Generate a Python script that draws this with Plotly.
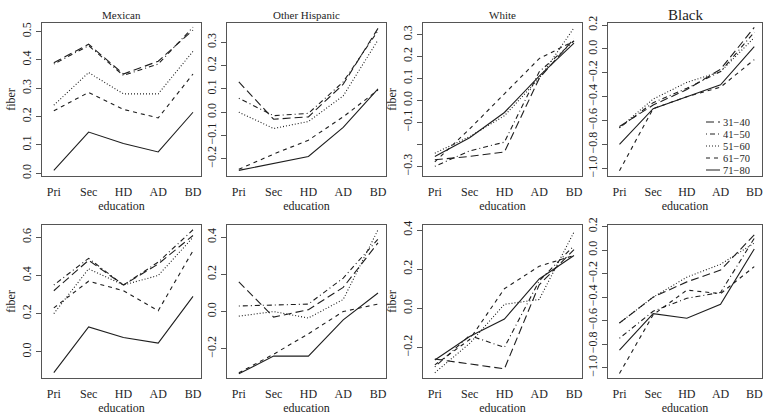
import plotly.graph_objects as go

# ---------------- data ----------------
education = ["Pri", "Sec", "HD", "AD", "BD"]
age_groups = ["31−40", "41−50", "51−60", "61−70", "71−80"]
panel_titles = ["Mexican", "Other Hispanic", "White", "Black"]

# each list: rows in age_groups order, values in education order
mexican_top = [
    [0.390, 0.455, 0.350, 0.395, 0.505],
    [0.385, 0.450, 0.345, 0.385, 0.515],
    [0.240, 0.355, 0.280, 0.280, 0.430],
    [0.220, 0.285, 0.225, 0.195, 0.350],
    [0.010, 0.145, 0.105, 0.075, 0.215],
]
other_hispanic_top = [
    [0.130, -0.030, -0.020, 0.120, 0.360],
    [0.060, -0.015, -0.005, 0.130, 0.350],
    [0.000, -0.070, -0.040, 0.070, 0.310],
    [-0.245, -0.180, -0.120, -0.020, 0.095],
    [-0.250, -0.220, -0.190, -0.065, 0.100],
]
white_top = [
    [-0.270, -0.255, -0.235, 0.100, 0.280],
    [-0.300, -0.230, -0.190, 0.130, 0.270],
    [-0.240, -0.165, -0.070, 0.100, 0.330],
    [-0.280, -0.130, 0.030, 0.190, 0.270],
    [-0.255, -0.170, -0.055, 0.110, 0.260],
]
black_top = [
    [-0.650, -0.470, -0.340, -0.170, 0.180],
    [-0.660, -0.450, -0.330, -0.190, 0.140],
    [-0.660, -0.420, -0.280, -0.190, 0.095],
    [-1.020, -0.500, -0.400, -0.320, -0.090],
    [-0.800, -0.500, -0.400, -0.300, 0.020],
]
mexican_bottom = [
    [0.320, 0.480, 0.350, 0.460, 0.610],
    [0.350, 0.490, 0.350, 0.470, 0.640],
    [0.200, 0.435, 0.350, 0.400, 0.600],
    [0.230, 0.370, 0.320, 0.215, 0.530],
    [-0.110, 0.130, 0.075, 0.045, 0.290],
]
other_hispanic_bottom = [
    [0.160, -0.030, 0.010, 0.130, 0.370],
    [0.030, 0.035, 0.040, 0.180, 0.390],
    [-0.025, 0.000, -0.035, 0.065, 0.440],
    [-0.330, -0.230, -0.120, 0.000, 0.040],
    [-0.335, -0.240, -0.240, -0.045, 0.100],
]
white_bottom = [
    [-0.260, -0.285, -0.310, 0.120, 0.300],
    [-0.300, -0.140, -0.200, 0.140, 0.320],
    [-0.330, -0.180, 0.020, 0.045, 0.390],
    [-0.290, -0.160, 0.100, 0.215, 0.270],
    [-0.265, -0.145, -0.055, 0.150, 0.270],
]
black_bottom = [
    [-0.620, -0.400, -0.270, -0.170, 0.130],
    [-0.750, -0.520, -0.410, -0.360, 0.100],
    [-0.620, -0.400, -0.230, -0.120, 0.060],
    [-1.050, -0.550, -0.340, -0.370, -0.140],
    [-0.850, -0.540, -0.580, -0.460, 0.010],
]

y_ticks_top = [
    [0.0, 0.1, 0.2, 0.3, 0.4, 0.5],
    [-0.2, -0.1, 0.0, 0.1, 0.2, 0.3],
    [-0.3, -0.2, -0.1, 0.0, 0.1, 0.2, 0.3],
    [-1.0, -0.8, -0.6, -0.4, -0.2, 0.0, 0.2],
]
y_ticks_bottom = [
    [0.0, 0.2, 0.4, 0.6],
    [-0.2, 0.0, 0.2, 0.4],
    [-0.2, 0.0, 0.2, 0.4],
    [-1.0, -0.8, -0.6, -0.4, -0.2, 0.0, 0.2],
]

# ---------------- style ----------------
W, H = 765, 420
FONT = "Liberation Serif"
INK = "#1e1e1e"
BOX = "#555555"
dashes = ["8px,4px", "1px,3px,5px,3px", "1px,2px", "4px,4px", "solid"]

box_x = [(42, 201), (227, 386), (423, 582), (608, 762)]
box_y = [(23, 176), (225, 378)]
y_ranges_top = [(-0.01, 0.53), (-0.274, 0.383), (-0.344, 0.352), (-1.064, 0.217)]
y_ranges_bottom = [(-0.138, 0.665), (-0.358, 0.466), (-0.357, 0.426), (-1.088, 0.214)]
x_range = (0.66, 5.23)

panels = [
    (0, 0, mexican_top), (0, 1, other_hispanic_top), (0, 2, white_top), (0, 3, black_top),
    (1, 0, mexican_bottom), (1, 1, other_hispanic_bottom), (1, 2, white_bottom), (1, 3, black_bottom),
]

fig = go.Figure()
layout = {}
x_pos = list(range(1, len(education) + 1))

for idx, (row, col, series) in enumerate(panels):
    n = idx + 1
    xa = "x" if n == 1 else f"x{n}"
    ya = "y" if n == 1 else f"y{n}"
    for g, vals in enumerate(series):
        fig.add_trace(go.Scatter(
            x=x_pos, y=vals, mode="lines", name=age_groups[g],
            line=dict(color=INK, width=1.1, dash=dashes[g]),
            xaxis=xa, yaxis=ya, showlegend=False,
        ))
    x0, x1 = box_x[col]
    y0, y1 = box_y[row]
    yr = (y_ranges_top if row == 0 else y_ranges_bottom)[col]
    yt = (y_ticks_top if row == 0 else y_ticks_bottom)[col]
    ytext = [("" if (row == 0 and col == 2 and abs(v + 0.2) < 1e-9) else f"{v:.1f}".replace("-", "−")) for v in yt]
    layout["xaxis" if n == 1 else f"xaxis{n}"] = dict(
        domain=[x0 / W, min(x1 / W, 1.0)], range=list(x_range), anchor=ya,
        tickmode="array", tickvals=x_pos, ticktext=education,
        ticks="outside", ticklen=5, tickcolor="rgba(0,0,0,0)",
        ticklabeloverflow="allow",
        showline=True, linecolor=BOX, linewidth=1, mirror=True,
        showgrid=False, zeroline=False, automargin=False,
        tickfont=dict(family=FONT, size=12, color=INK),
        title=dict(text="education", font=dict(family=FONT, size=12, color=INK), standoff=0),
    )
    layout["yaxis" if n == 1 else f"yaxis{n}"] = dict(
        domain=[1 - y1 / H, 1 - y0 / H], range=list(yr), anchor=xa,
        tickmode="array", tickvals=yt, ticktext=ytext, tickangle=-90,
        ticks="outside", ticklen=5, tickcolor=BOX,
        ticklabeloverflow="allow",
        showline=True, linecolor=BOX, linewidth=1, mirror=True,
        showgrid=False, zeroline=False, automargin=False,
        tickfont=dict(family=FONT, size=12, color=INK),
        title=dict(text="fiber" if col in (0, 2) else "",
                   font=dict(family=FONT, size=12, color=INK), standoff=2),
    )

annotations = []
for col, t in enumerate(panel_titles):
    x0, x1 = box_x[col]
    annotations.append(dict(
        text=t, x=(x0 + x1) / 2 / W, y=1 - 15 / H, xref="paper", yref="paper",
        showarrow=False, xanchor="center", yanchor="middle",
        font=dict(family=FONT, size=15 if t == "Black" else 11, color=INK),
    ))

# legend inside the Black panel (top row)
shapes = []
for g, name in enumerate(age_groups):
    yy = 1 - (122 + g * 12) / H
    shapes.append(dict(type="line", xref="paper", yref="paper",
                       x0=706 / W, x1=720 / W, y0=yy, y1=yy,
                       line=dict(color=INK, width=1, dash=dashes[g])))
    annotations.append(dict(text=name, x=722 / W, y=yy, xref="paper", yref="paper",
                            showarrow=False, xanchor="left", yanchor="middle",
                            height=11, borderpad=0, valign="middle",
                            font=dict(family=FONT, size=10.5, color=INK)))

fig.update_layout(
    width=W, height=H, margin=dict(l=0, r=0, t=0, b=0, autoexpand=False),
    paper_bgcolor="white", plot_bgcolor="white",
    showlegend=False, annotations=annotations, shapes=shapes,
    **layout,
)
pin_js = ("document.body.style.margin='0';"
          "var d=document.getElementById('{plot_id}');"
          "d.style.position='fixed';d.style.left='0px';d.style.top='0px';")
fig.write_html("out.html", post_script=pin_js, config={"displayModeBar": False})
